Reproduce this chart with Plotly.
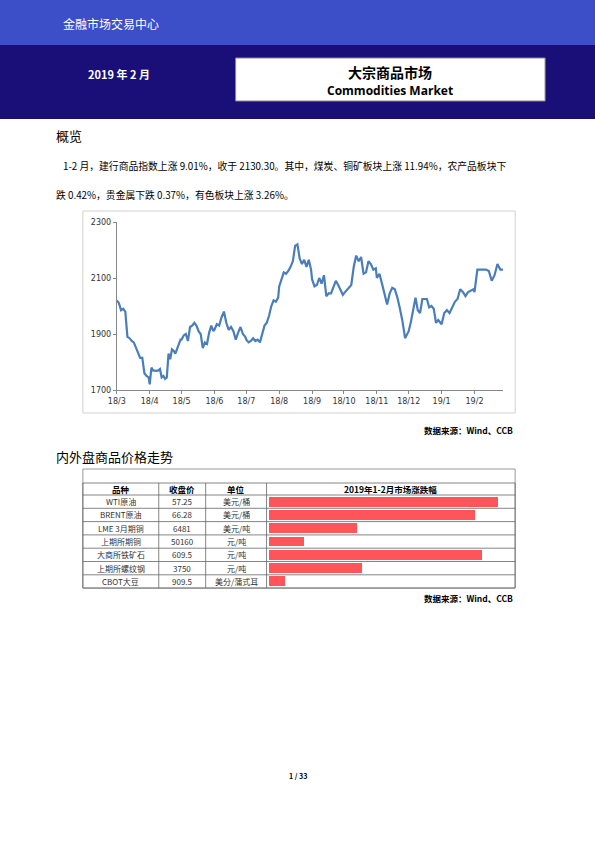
import plotly.graph_objects as go
import pandas as pd

# ---- index data (per month) ----
months = ["2018-03", "2018-04", "2018-05", "2018-06", "2018-07", "2018-08",
          "2018-09", "2018-10", "2018-11", "2018-12", "2019-01", "2019-02"]
index_by_month = [
    [2020, 2010, 1985, 1990, 1980, 1890, 1885, 1875, 1870, 1850, 1830, 1815, 1815, 1760, 1750, 1745],
    [1720, 1780, 1770, 1768, 1768, 1770, 1775, 1745, 1750, 1740, 1745, 1830, 1810, 1845, 1840, 1830, 1845, 1860, 1880],
    [1880, 1895, 1900, 1875, 1925, 1930, 1940, 1930, 1910, 1900, 1850, 1870, 1865, 1905, 1930, 1910],
    [1915, 1935, 1930, 1960, 1980, 1940, 1915, 1925, 1910, 1880, 1905, 1925, 1900, 1890],
    [1880, 1870, 1875, 1885, 1875, 1880, 1870, 1905, 1930, 1940, 1965, 2000, 2020, 2015, 2030],
    [2070, 2100, 2120, 2115, 2125, 2140, 2160, 2215, 2220, 2170, 2150, 2165, 2140, 2165, 2130],
    [2095, 2070, 2075, 2100, 2080, 2110, 2035, 2045, 2045, 2065, 2090, 2075, 2060, 2040],
    [2045, 2055, 2065, 2075, 2140, 2180, 2160, 2175, 2115, 2120, 2160, 2150, 2130, 2135],
    [2100, 2115, 2080, 2040, 2005, 2045, 2065, 2060, 2030, 1990, 1945, 1885, 1905],
    [1910, 1945, 1990, 2030, 1985, 1975, 2025, 2025, 2025, 1995, 2000, 1990, 1940, 1950, 1940],
    [1935, 1975, 1985, 1975, 1995, 2015, 2025, 2060, 2050, 2035, 2050, 2055, 2060],
    [2050, 2130, 2130, 2130, 2130, 2125, 2090, 2110, 2150, 2130, 2130],
]
month_ticks = ["18/3", "18/4", "18/5", "18/6", "18/7", "18/8", "18/9", "18/10", "18/11", "18/12", "19/1", "19/2"]

# ---- table data ----
names = ["WTI原油", "BRENT原油", "LME 3月期铜", "上期所期铜", "大商所铁矿石", "上期所螺纹钢", "CBOT大豆"]
closes = ["57.25", "66.28", "6481", "50160", "609.5", "3750", "909.5"]
units = ["美元/桶", "美元/桶", "美元/吨", "元/吨", "元/吨", "元/吨", "美分/蒲式耳"]
changes = [25.0, 22.5, 9.6, 3.8, 23.3, 10.2, 1.7]

W, H = 595, 842
# page coords -> paper fractions (small correction for how the page gets framed)
def px(x): return (x - 8) / 587
def py(y): return 1 - (y - 3) / 833

dates, vals = [], []
for m, v in zip(months, index_by_month):
    start = pd.Timestamp(m + "-01")
    end = start + pd.offsets.MonthEnd(0)
    dates += list(pd.date_range(start, end, periods=len(v)))
    vals += v

fig = go.Figure()
fig.add_trace(go.Scatter(x=dates, y=vals, mode="lines", line=dict(color="#4a7ebb", width=2.2),
                         xaxis="x", yaxis="y", showlegend=False))

row_top, row_h = 494, 13.3
n = len(names)
fig.add_trace(go.Bar(x=changes, y=list(range(n)), orientation="h", marker_color="#ff5459",
                     marker_line_width=0, width=0.75, xaxis="x2", yaxis="y2", showlegend=False))

shapes, ann = [], []
font_cn = "Noto Sans CJK SC"
def rect(x0, y0, x1, y1, fill=None, line=None, lw=1):
    shapes.append(dict(type="rect", xref="paper", yref="paper", x0=px(x0), x1=px(x1), y0=py(y1), y1=py(y0),
                       fillcolor=fill or "rgba(0,0,0,0)", line=dict(color=line or "rgba(0,0,0,0)", width=lw), layer="below"))
def text(x, y, s, size, color="black", anchor="center", bold=False, family=font_cn):
    ann.append(dict(xref="paper", yref="paper", x=px(x), y=py(y), text=f"<b>{s}</b>" if bold else s, showarrow=False,
                    xanchor=anchor, yanchor="middle", font=dict(size=size, color=color, family=family)))

# header
rect(-20, -10, 620, 44, fill="#3d4fc8")
rect(-20, 44, 620, 118, fill="#1a0f78")
rect(235, 57, 545, 100, fill="white", line="#888")
text(60, 23, "金融市场交易中心", 12, "white", "left")
text(118, 73, "2019 年 2 月", 11, "white", bold=True)
text(390, 71, "大宗商品市场", 14, bold=True)
text(390, 90, "Commodities Market", 12, bold=True, family="Open Sans")

text(53, 135, "概览", 13, anchor="left")
text(60, 165, "1-2 月，建行商品指数上涨 9.01%，收于 2130.30。其中，煤炭、铜矿板块上涨 11.94%，农产品板块下", 9.8, anchor="left")
text(53, 194, "跌 0.42%，贵金属下跌 0.37%，有色板块上涨 3.26%。", 9.8, anchor="left")
rect(82, 210, 515, 412, line="#d0d0d0")
text(515, 429, "数据来源：Wind、CCB", 8.5, anchor="right", bold=True)
text(53, 455, "内外盘商品价格走势", 13, anchor="left")
text(515, 597, "数据来源：Wind、CCB", 8.5, anchor="right", bold=True)
text(297, 775, "1 / 33", 7, bold=True)

# table
rect(82, 468, 515, 587, line="#999")
cols = [82, 158, 205, 266, 515]
for yy in [482, 494] + [row_top + row_h * (i + 1) for i in range(n)]:
    shapes.append(dict(type="line", xref="paper", yref="paper", x0=px(82), x1=px(515), y0=py(yy), y1=py(yy),
                       line=dict(color="#666", width=0.8)))
for xx in cols:
    shapes.append(dict(type="line", xref="paper", yref="paper", x0=px(xx), x1=px(xx), y0=py(482), y1=py(587),
                       line=dict(color="#666", width=0.8)))
heads = ["品种", "收盘价", "单位", "2019年1-2月市场涨跌幅"]
for i, hname in enumerate(heads):
    text((cols[i] + cols[i + 1]) / 2, 488, hname, 8.5, bold=True)
for r in range(n):
    yc = row_top + row_h * (r + 0.5)
    for i, s in enumerate([names[r], closes[r], units[r]]):
        text((cols[i] + cols[i + 1]) / 2, yc, s, 8, "#333")

fig.update_layout(
    width=W, height=H, margin=dict(l=0, r=0, t=0, b=0), paper_bgcolor="white", plot_bgcolor="white",
    shapes=shapes, annotations=ann, bargap=0,
    xaxis=dict(domain=[px(116), px(503)], range=["2018-03-01", "2019-02-28"], tickvals=[m + "-01" for m in months],
               ticktext=month_ticks, showgrid=False, showline=True, linecolor="#888", ticks="outside",
               ticklen=3, tickcolor="#888", tickfont=dict(size=8, color="#333", family="DejaVu Sans")),
    yaxis=dict(domain=[py(389), py(221)], range=[1700, 2300], tickvals=[1700, 1900, 2100, 2300],
               showgrid=False, showline=True, linecolor="#888", ticks="outside", ticklen=3, tickcolor="#888",
               tickfont=dict(size=8, color="#333", family="DejaVu Sans")),
    xaxis2=dict(domain=[px(268), px(512)], range=[0, 26.6], visible=False, anchor="y2"),
    yaxis2=dict(domain=[py(587), py(494)], range=[n - 0.5, -0.5], visible=False, anchor="x2"),
)

css = ("var s=document.createElement('style');"
       "s.textContent='html,body{margin:0;padding:0;overflow:hidden;}"
       ".plotly-graph-div{position:absolute;left:0;top:0;}';"
       "document.head.appendChild(s);")
fig.write_html("out.html", config={"displayModeBar": False}, post_script=css)
